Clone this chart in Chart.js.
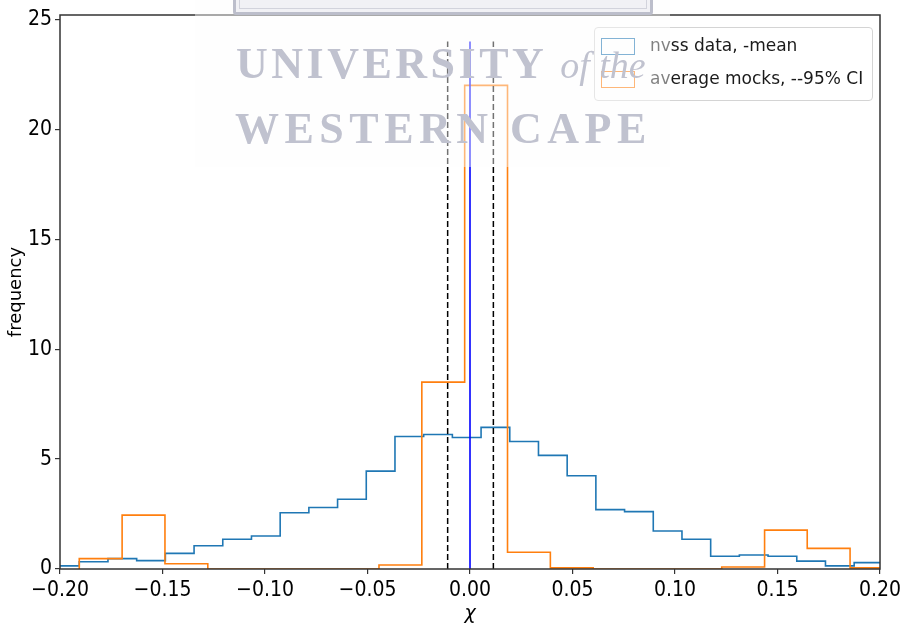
<!DOCTYPE html>
<html>
<head>
<meta charset="utf-8">
<script src="https://cdn.jsdelivr.net/npm/chart.js@4.4.0/dist/chart.umd.min.js"></script>
<style>
  body { margin: 0; background: #fff; }
  #wrap { position: relative; width: 901px; height: 625px; overflow: hidden; }
  #chart { position: absolute; left: 0; top: 0; }
  #legend {
    position: absolute; left: 594px; top: 27px; width: 277px; height: 72px;
    border: 1px solid #d4d4d4; border-radius: 4px; background: rgba(255,255,255,0.85);
    font-family: 'DejaVu Sans', sans-serif; font-size: 17px; color: #1a1a1a;
  }
  .item { position: absolute; left: 6px; height: 17px; }
  .patch { position: absolute; left: 0; top: 0; width: 32px; height: 15px; border: 1.2px solid; }
  .label { position: absolute; left: 49px; top: -3px; white-space: nowrap; }
  #wm {
    position: absolute; left: 195px; top: 0; width: 475px; height: 167px;
    background: rgba(252,252,252,0.45);
  }
  #wm .logo {
    position: absolute; left: 38px; top: -12px; width: 414px; height: 21px;
    border: 3px solid #bcbecb; border-radius: 3px; background: #f1f1f5;
  }
  #wm .logo div {
    position: absolute; left: 3px; right: 3px; top: 0; bottom: 3px;
    border: 1.5px solid #d2d3dc; border-top: none;
  }
  #wm .line {
    position: absolute; white-space: nowrap; color: #c0c2cf;
    font-family: 'Liberation Serif', serif; font-weight: bold; font-size: 44px; line-height: 44px;
  }
  #wm .line i { font-weight: normal; font-size: 38px; letter-spacing: 0; }
</style>
</head>
<body>
<div id="wrap">
  <canvas id="chart" width="901" height="625"></canvas>
  <div id="legend">
    <div class="item" style="top:10px"><div class="patch" style="border-color:#1f77b4"></div><span class="label">nvss data, -mean</span></div>
    <div class="item" style="top:43px"><div class="patch" style="border-color:#ff7f0e"></div><span class="label">average mocks, --95% CI</span></div>
  </div>
  <div id="wm">
    <div class="logo"><div></div></div>
    <div class="line" style="left:41px; top:42px; letter-spacing:3.5px">UNIVERSITY <i>of the</i></div>
    <div class="line" style="left:40px; top:107px; letter-spacing:5.5px">WESTERN CAPE</div>
  </div>
</div>
<script>
// histogramme "nvss data" : bords des bins et hauteurs
var blueEdges = [-0.2046, -0.1906, -0.1766, -0.1626, -0.1486, -0.1346, -0.1206, -0.1066, -0.0926, -0.0786,
                 -0.0646, -0.0506, -0.0366, -0.0226, -0.0086, 0.0054, 0.0194, 0.0334, 0.0474, 0.0614,
                 0.0754, 0.0894, 0.1034, 0.1174, 0.1314, 0.1454, 0.1594, 0.1734, 0.1874, 0.2014];
var blueCounts = [0.14, 0.33, 0.47, 0.38, 0.71, 1.06, 1.35, 1.5, 2.56, 2.8,
                  3.17, 4.45, 6.03, 6.12, 5.98, 6.44, 5.8, 5.17, 4.24, 2.7,
                  2.61, 1.73, 1.35, 0.58, 0.64, 0.58, 0.36, 0.14, 0.29];

// histogramme "average mocks"
var orangeEdges = [-0.1906, -0.1697, -0.1488, -0.1279, -0.1070, -0.0862, -0.0653, -0.0444, -0.0235, -0.0026,
                   0.0183, 0.0392, 0.0601, 0.0810, 0.1019, 0.1228, 0.1437, 0.1645, 0.1854, 0.2063];
var orangeCounts = [0.47, 2.45, 0.24, 0, 0, 0, 0, 0.18, 8.5, 22.0,
                    0.76, 0.05, 0, 0, 0, 0.09, 1.77, 0.94, 0.05];

// lignes verticales : moyenne et intervalle 95%
var meanX = 0.0;
var ciX = [-0.0109, 0.0114];
var lineTop = 24;

// graduations
var xTicks = [-0.20, -0.15, -0.10, -0.05, 0.00, 0.05, 0.10, 0.15, 0.20];
var yTicks = [0, 5, 10, 15, 20, 25];

// contour en escalier : (e0,0), (e_i, c_i), puis (eN,0) ; stepped 'before' = horizontal puis vertical
function stepPoints(edges, counts) {
    var pts = [{x: edges[0], y: 0}];
    counts.forEach(function(c, i) { pts.push({x: edges[i], y: c}); });
    pts.push({x: edges[edges.length - 1], y: 0});
    return pts;
}

function vline(x) {
    return [{x: x, y: 0}, {x: x, y: lineTop}];
}

// cadre complet autour de la zone du graphique
var frame = {
    id: 'frame',
    afterDatasetsDraw: function(chart) {
        var a = chart.chartArea, c = chart.ctx;
        c.save();
        c.strokeStyle = '#333';
        c.lineWidth = 1.5;
        c.strokeRect(a.left, a.top, a.right - a.left, a.bottom - a.top);
        c.restore();
    }
};

var tickFont = { family: "'DejaVu Sans Condensed', 'DejaVu Sans', sans-serif", size: 21 };

var ctx = document.getElementById('chart').getContext('2d');
ctx.chart = new Chart(ctx, {
    type: 'line',
    data: {
        datasets: [{
            data: stepPoints(blueEdges, blueCounts),
            stepped: 'before', borderColor: '#1f77b4', borderWidth: 1.6, pointRadius: 0, order: 4
        }, {
            data: stepPoints(orangeEdges, orangeCounts),
            stepped: 'before', borderColor: '#ff7f0e', borderWidth: 1.6, pointRadius: 0, order: 3
        }, {
            data: vline(ciX[0]),
            borderColor: '#000', borderWidth: 1.5, borderDash: [6, 3], pointRadius: 0, order: 2
        }, {
            data: vline(ciX[1]),
            borderColor: '#000', borderWidth: 1.5, borderDash: [6, 3], pointRadius: 0, order: 2
        }, {
            data: vline(meanX),
            borderColor: '#0000ff', borderWidth: 1.6, pointRadius: 0, order: 1
        }]
    },
    options: {
        responsive: false,
        animation: false,
        layout: { padding: { top: 15, right: 21, left: 0, bottom: 0 } },
        plugins: { legend: { display: false }, tooltip: { enabled: false } },
        scales: {
            x: {
                type: 'linear', min: -0.2, max: 0.2,
                afterBuildTicks: function(s) { s.ticks = xTicks.map(function(v) { return {value: v}; }); },
                afterFit: function(s) { s.height = 56; s.paddingLeft = 0; s.paddingRight = 0; },
                grid: { drawOnChartArea: false, tickLength: 5, color: '#333', lineWidth: 1.2 },
                border: { display: false },
                ticks: {
                    font: tickFont, color: '#000', padding: 4, maxRotation: 0,
                    callback: function(v) { return (v < 0 ? '\u2212' : '') + Math.abs(v).toFixed(2); }
                },
                title: { display: true, text: 'χ', font: { family: "'DejaVu Sans'", size: 19, style: 'italic' }, color: '#000', padding: 0 }
            },
            y: {
                type: 'linear', min: 0, max: 25.2,
                afterBuildTicks: function(s) { s.ticks = yTicks.map(function(v) { return {value: v}; }); },
                afterFit: function(s) { s.width = 60; s.paddingTop = 0; s.paddingBottom = 0; },
                grid: { drawOnChartArea: false, tickLength: 5, color: '#333', lineWidth: 1.2 },
                border: { display: false },
                ticks: { font: tickFont, color: '#000', padding: 3 },
                title: { display: true, text: 'frequency', font: { family: "'DejaVu Sans'", size: 18 }, color: '#000', padding: { top: 6, bottom: 0 } }
            }
        }
    },
    plugins: [frame]
});
</script>
</body>
</html>
